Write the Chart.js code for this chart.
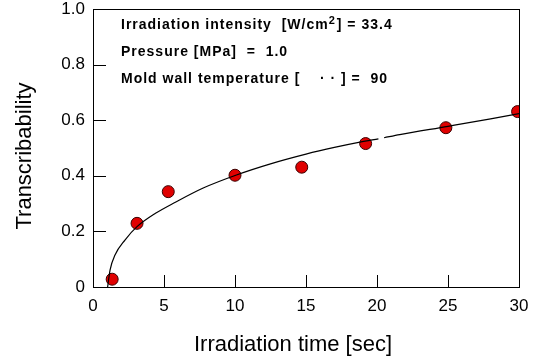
<!DOCTYPE html>
<html>
<head>
<meta charset="utf-8">
<script src="https://cdn.jsdelivr.net/npm/chart.js@4/dist/chart.umd.min.js"></script>
<style>
    html, body { margin: 0; padding: 0; background: #fff; }
    #wrap { width: 533px; height: 363px; position: relative; }
</style>
</head>
<body>
<div id="wrap"><canvas id="chart"></canvas></div>
<script>
// measured points
const timeSec = [1.35, 3.1, 5.3, 10.0, 14.7, 19.2, 24.85, 29.9];
const transcribability = [0.028, 0.229, 0.343, 0.402, 0.431, 0.516, 0.573, 0.631];

// fitted curve (null = small break just past 20 s)
const fitTime = [1.03, 1.2, 1.55, 2.25, 3.1, 4.4, 5.8, 7.8, 10.1, 12.5, 15, 17, 18.8, 20.1, 20.3, 20.5, 21.6, 25, 28, 30];
const fitValue = [0, 0.061, 0.115, 0.169, 0.217, 0.265, 0.305, 0.357, 0.403, 0.443, 0.478, 0.502, 0.521, 0.533, null, 0.537, 0.548, 0.578, 0.605, 0.624];

const xTicks = [0, 5, 10, 15, 20, 25, 30];
const yTickLabels = ['0', '0.2', '0.4', '0.6', '0.8', '1.0'];

const xTitle = 'Irradiation time [sec]';
const yTitle = 'Transcribability';

const noteLines = [
    ['Irradiation intensity  [W/cm', '2', '] = 33.4'],
    ['Pressure [MPa]  =  1.0'],
    ['Mold wall temperature [    \u00b7 \u00b7 ] =  90']
];

const FONT = '"Liberation Sans", Arial, sans-serif';

// box frame, inward ticks, axis titles and the condition notes
const framePlugin = {
    id: 'frame',
    afterDraw(chart) {
        const { ctx, chartArea: a, scales } = chart;
        ctx.save();
        ctx.strokeStyle = '#000';
        ctx.lineWidth = 1;
        ctx.strokeRect(a.left + 0.5, a.top + 0.5, a.right - a.left, a.bottom - a.top);

        ctx.beginPath();
        scales.x.ticks.forEach(t => {
            const px = Math.round(scales.x.getPixelForValue(t.value)) + 0.5;
            ctx.moveTo(px, a.bottom);
            ctx.lineTo(px, a.bottom - 12);
        });
        scales.y.ticks.forEach(t => {
            const py = Math.round(scales.y.getPixelForValue(t.value)) + 0.5;
            ctx.moveTo(a.left, py);
            ctx.lineTo(a.left + 13, py);
        });
        ctx.stroke();

        // axis titles
        ctx.fillStyle = '#000';
        ctx.font = '22px ' + FONT;
        ctx.textAlign = 'center';
        ctx.textBaseline = 'middle';
        ctx.fillText(xTitle, (a.left + a.right) / 2 - 13, a.bottom + 58);
        ctx.save();
        ctx.translate(25, (a.top + a.bottom) / 2 + 8);
        ctx.rotate(-Math.PI / 2);
        ctx.fillText(yTitle, 0, 0);
        ctx.restore();

        // notes
        ctx.textAlign = 'left';
        ctx.textBaseline = 'alphabetic';
        ctx.letterSpacing = '1px';
        let y = a.top + 20;
        noteLines.forEach(parts => {
            let x = a.left + 28;
            parts.forEach((p, i) => {
                const sup = parts.length > 1 && i === 1;
                ctx.font = 'bold ' + (sup ? 11 : 14) + 'px ' + FONT;
                ctx.fillText(p, x, sup ? y - 5 : y);
                x += ctx.measureText(p).width + (sup ? 1 : 0);
            });
            y += 27;
        });
        ctx.restore();
    }
};

new Chart(document.getElementById('chart'), {
    type: 'scatter',
    data: {
        datasets: [{
            type: 'line',
            label: 'fit',
            data: fitTime.map((t, i) => ({ x: t, y: fitValue[i] })),
            borderColor: '#000',
            borderWidth: 1.2,
            pointRadius: 0,
            fill: false,
            spanGaps: false,
            cubicInterpolationMode: 'monotone'
        }, {
            label: 'Transcribability',
            data: timeSec.map((t, i) => ({ x: t, y: transcribability[i] })),
            backgroundColor: '#e00000',
            borderColor: '#3a0000',
            borderWidth: 1,
            pointRadius: 6,
            pointHoverRadius: 6
        }]
    },
    options: {
        responsive: true,
        maintainAspectRatio: false,
        animation: false,
        layout: { padding: { top: 9, right: 14, left: 0, bottom: 0 } },
        plugins: {
            legend: { display: false },
            tooltip: { enabled: false }
        },
        scales: {
            x: {
                type: 'linear',
                min: 0,
                max: 30,
                afterBuildTicks: s => { s.ticks = xTicks.map(v => ({ value: v })); },
                afterFit: s => { s.height = 76; s.paddingLeft = 0; s.paddingRight = 0; },
                grid: { display: false, drawTicks: false },
                border: { display: false },
                ticks: {
                    color: '#000',
                    padding: 9,
                    font: { family: FONT, size: 17 },
                    maxRotation: 0
                }
            },
            y: {
                min: 0,
                max: 1,
                afterBuildTicks: s => { s.ticks = yTickLabels.map(l => ({ value: parseFloat(l) })); },
                afterFit: s => { s.width = 93; s.paddingTop = 0; s.paddingBottom = 0; },
                grid: { display: false, drawTicks: false },
                border: { display: false },
                ticks: {
                    color: '#000',
                    padding: 8,
                    font: { family: FONT, size: 17 },
                    callback: (v, i) => yTickLabels[i]
                }
            }
        }
    },
    plugins: [framePlugin]
});
</script>
</body>
</html>
